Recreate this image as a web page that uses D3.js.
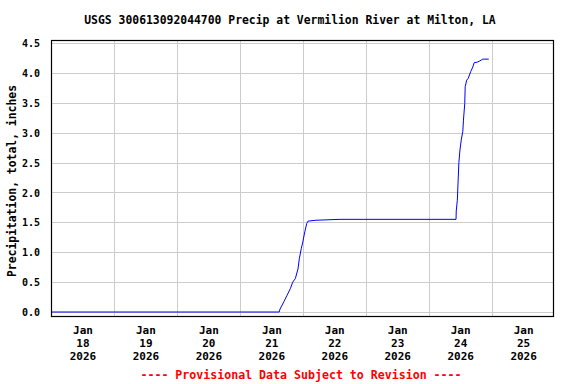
<!doctype html>
<html lang="en">
<head>
<meta charset="UTF-8">
<title>USGS 300613092044700 Precip at Vermilion River at Milton, LA</title>
<script src="https://d3js.org/d3.v7.min.js"></script>
<style>
body { margin: 0; background: #fff; }
svg { display: block; }
text { font-family: "DejaVu Sans Mono", "Liberation Mono", monospace; font-weight: bold; }
.grid line { stroke: #cccccc; stroke-width: 1; shape-rendering: crispEdges; }
.grid path { display: none; }
.ylab text { font-size: 10px; fill: #000; }
.xlab text { font-size: 11px; fill: #000; }
</style>
</head>
<body>
<div id="plot"></div>
<script>

var width = 576;
var height = 384;
var plotLeft = 51, plotRight = 554, plotTop = 40, plotBottom = 316;

var title = "USGS 300613092044700 Precip at Vermilion River at Milton, LA";
var yTitle = "Precipitation, total, inches";
var footNote = "---- Provisional Data Subject to Revision ----";

// x axis days (gridlines at midnight, labels at noon)
var dayStart = "2026-01-18 00:00";
var dayEnd = "2026-01-26 00:00";
var dayLabels = ["2026-01-18", "2026-01-19", "2026-01-20", "2026-01-21",
	"2026-01-22", "2026-01-23", "2026-01-24", "2026-01-25"];
var yTicks = [0.0, 0.5, 1.0, 1.5, 2.0, 2.5, 3.0, 3.5, 4.0, 4.5];

// cumulative precipitation
var obsTimes = [
	"2026-01-18 00:00", "2026-01-21 15:00", "2026-01-21 15:20", "2026-01-21 16:45",
	"2026-01-21 18:00", "2026-01-21 19:15", "2026-01-21 20:10", "2026-01-21 21:10",
	"2026-01-21 22:10", "2026-01-21 22:40", "2026-01-21 23:25", "2026-01-22 00:00",
	"2026-01-22 00:45", "2026-01-22 01:30", "2026-01-22 02:00", "2026-01-22 05:00",
	"2026-01-22 14:10", "2026-01-24 10:25", "2026-01-24 10:30", "2026-01-24 10:55",
	"2026-01-24 11:30", "2026-01-24 11:55", "2026-01-24 12:25", "2026-01-24 13:00",
	"2026-01-24 13:15", "2026-01-24 13:45", "2026-01-24 13:55", "2026-01-24 14:30",
	"2026-01-24 15:05", "2026-01-24 16:00", "2026-01-24 16:50", "2026-01-24 17:20",
	"2026-01-24 18:30", "2026-01-24 19:30", "2026-01-24 20:35", "2026-01-24 22:55"
];
var precipInches = [
	0.00, 0.00, 0.05, 0.17,
	0.28, 0.39, 0.50, 0.56,
	0.72, 0.89, 1.06, 1.17,
	1.34, 1.48, 1.52, 1.535,
	1.55, 1.55, 1.69, 1.87,
	2.50, 2.71, 2.88, 3.02,
	3.21, 3.49, 3.77, 3.88,
	3.91, 4.02, 4.10, 4.17,
	4.18, 4.20, 4.23, 4.23
];

var parseTime = d3.timeParse("%Y-%m-%d %H:%M");
var parseDay = d3.timeParse("%Y-%m-%d");

var data = obsTimes.map(function (t, i) {
	return { time: parseTime(t), value: precipInches[i] };
});

var svg = d3.select("#plot").append("svg")
	.attr("width", width)
	.attr("height", height);

var xScale = d3.scaleTime()
	.domain([parseTime(dayStart), parseTime(dayEnd)])
	.range([plotLeft, plotRight + 0.6]);

var yScale = d3.scaleLinear()
	.domain([0, 4.5])
	.range([312, 43]);

// gridlines
var dayTicks = dayLabels.slice(1).map(function (d) { return parseDay(d); });

svg.append("g")
	.attr("class", "grid")
	.attr("transform", "translate(0," + plotBottom + ")")
	.call(d3.axisBottom(xScale).tickValues(dayTicks).tickSize(-(plotBottom - plotTop)).tickFormat(""));

svg.append("g")
	.attr("class", "grid")
	.attr("transform", "translate(" + plotLeft + ",0)")
	.call(d3.axisLeft(yScale).tickValues(yTicks).tickSize(-(plotRight - plotLeft)).tickFormat(""));

// y labels
var yLab = svg.append("g")
	.attr("class", "ylab")
	.attr("transform", "translate(" + (plotLeft - 11) + ",0)")
	.call(d3.axisLeft(yScale).tickValues(yTicks).tickSize(0).tickPadding(0).tickFormat(d3.format(".1f")));
yLab.select(".domain").remove();
yLab.selectAll("text").attr("dy", "0.36em");

// x labels, three lines each, centred at noon
var xLab = svg.append("g")
	.attr("class", "xlab")
	.attr("transform", "translate(0," + plotBottom + ")")
	.call(d3.axisBottom(xScale)
		.tickValues(dayLabels.map(function (d) { return d3.timeHour.offset(parseDay(d), 12); }))
		.tickSize(0).tickFormat(""));
xLab.select(".domain").remove();
xLab.selectAll(".tick").each(function (d) {
	var t = d3.select(this).append("text")
		.attr("text-anchor", "middle")
		.attr("y", 18);
	var lines = [d3.timeFormat("%b")(d), d3.timeFormat("%d")(d), d3.timeFormat("%Y")(d)];
	lines.forEach(function (s, i) {
		t.append("tspan").attr("x", 0).attr("dy", i == 0 ? 0 : 12.8).text(s);
	});
});

// data line
var line = d3.line()
	.x(function (d) { return xScale(d.time); })
	.y(function (d) { return yScale(d.value); });

svg.append("path")
	.attr("d", line(data))
	.style("stroke", "#0000ff")
	.style("stroke-width", 1)
	.style("fill", "none");

// frame
svg.append("rect")
	.attr("x", plotLeft + 0.5)
	.attr("y", plotTop + 0.5)
	.attr("width", plotRight - plotLeft - 1)
	.attr("height", plotBottom - plotTop)
	.style("fill", "none")
	.style("stroke", "#000")
	.style("stroke-width", 1.2);

svg.append("text")
	.attr("x", 290)
	.attr("y", 24)
	.attr("text-anchor", "middle")
	.style("font-size", "11.4px")
	.text(title);

svg.append("text")
	.attr("transform", "translate(16,181) rotate(-90)")
	.attr("text-anchor", "middle")
	.style("font-size", "11.4px")
	.text(yTitle);

svg.append("text")
	.attr("x", 301)
	.attr("y", 379)
	.attr("text-anchor", "middle")
	.style("font-size", "11.6px")
	.style("fill", "#ff0000")
	.text(footNote);

</script>
</body>
</html>
